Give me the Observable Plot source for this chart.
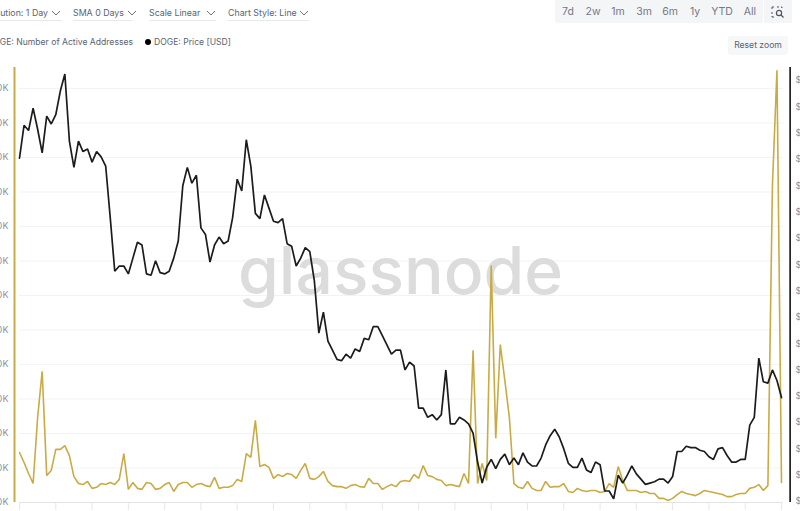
<!DOCTYPE html>
<html><head><meta charset="utf-8">
<script src="https://cdn.jsdelivr.net/npm/d3@7"></script>
<script src="https://cdn.jsdelivr.net/npm/@observablehq/plot@0.6"></script>
<style>
html,body{margin:0;padding:0;background:#fff;overflow:hidden;width:800px;height:511px;font-family:Inter,sans-serif}
#chart{position:absolute;left:0;top:0}
.ctl{position:absolute;top:0;height:20px;border-bottom:1px solid #e6e8eb;font-size:8.8px;line-height:26px;color:#5b6470;white-space:nowrap;display:block}
.ctl svg{position:absolute;top:10px}
.leg{position:absolute;top:36px;font-size:8.6px;line-height:13px;color:#5b6470;white-space:nowrap}
.dot{position:absolute;top:39px;width:6px;height:6px;border-radius:50%}
#bar{position:absolute;left:555px;top:0;width:208px;height:23px;background:#f4f5f6;border-radius:0 0 3px 3px}
#iconbox{position:absolute;left:764px;top:0;width:28px;height:23px;background:#f4f5f6}
.t{position:absolute;top:5px;font-size:10.5px;line-height:14px;color:#727985;transform:translateX(-50%)}
#reset{position:absolute;left:728px;top:36px;width:60px;height:19px;background:#f6f7f9;border-radius:3px;font-size:8.6px;line-height:19px;text-align:center;color:#5b6470}
</style></head><body>
<div id="chart"></div>
<div class="ctl" style="left:-46px;width:108px;text-align:right"><span style="position:absolute;right:14px">Resolution: 1 Day</span><svg style="right:1px" width="10" height="6"><path d="M1 1l4 4 4-4" fill="none" stroke="#6b7280"/></svg></div>
<div class="ctl" style="left:73px;width:59px">SMA 0 Days<svg style="left:54px" width="10" height="6"><path d="M1 1l4 4 4-4" fill="none" stroke="#6b7280"/></svg></div>
<div class="ctl" style="left:149px;width:67px">Scale Linear<svg style="left:57px" width="10" height="6"><path d="M1 1l4 4 4-4" fill="none" stroke="#6b7280"/></svg></div>
<div class="ctl" style="left:228px;width:81px">Chart Style: Line<svg style="left:71px" width="10" height="6"><path d="M1 1l4 4 4-4" fill="none" stroke="#6b7280"/></svg></div>
<div class="dot" style="left:-12px;background:#c9ab45"></div>
<div class="leg" style="right:667px">DOGE: Number of Active Addresses</div>
<div class="dot" style="left:145px;background:#000"></div>
<div class="leg" style="left:154px">DOGE: Price [USD]</div>
<div id="bar"></div><div id="iconbox"></div>
<span class="t" style="left:568px">7d</span><span class="t" style="left:593px">2w</span><span class="t" style="left:618px">1m</span><span class="t" style="left:644px">3m</span><span class="t" style="left:670px">6m</span><span class="t" style="left:695px">1y</span><span class="t" style="left:722px">YTD</span><span class="t" style="left:750px">All</span>
<svg style="position:absolute;left:771px;top:6px" width="14" height="12" fill="none" stroke="#4b5563"><path d="M1 3V1h2M6 1h2M10 1h1v1M1 6v2M1 10v1h2" /><circle cx="8" cy="7" r="2.6" stroke-width="1.2"/><path d="M10 9l2.5 2.5" stroke-width="1.2"/></svg>
<div id="reset">Reset zoom</div>
<script>
const addressesK = [14.5,11.6,8.4,5.5,24.7,38.0,7.8,9.3,15.4,15.4,16.5,13.6,7.5,5.5,5.2,6.1,4.1,4.4,5.5,5.2,5.8,5.2,6.7,14.2,3.8,5.8,4.1,3.8,5.8,5.5,3.8,4.1,5.2,5.8,3.2,5.2,5.8,5.8,4.4,5.2,5.5,4.9,4.6,7.3,4.1,4.4,4.4,4.9,6.7,6.1,14.2,13.1,23.8,10.4,11.0,10.2,
7.0,8.1,7.5,8.4,8.1,7.0,9.3,11.3,7.0,6.7,7.5,9.0,6.1,4.9,4.6,4.6,4.1,4.9,5.2,4.6,4.4,7.0,5.5,5.5,3.8,4.6,5.2,4.6,6.1,6.4,6.1,8.1,7.0,10.7,7.8,7.5,6.7,6.4,4.9,5.2,4.9,4.6,8.4,5.5,44.1,5.5,11.3,6.4,68.7,18.6,45.8,35.4,24.7,5.5,4.4,4.1,6.1,4.1,3.5,3.5,
6.1,4.4,4.6,4.6,5.5,3.2,2.9,4.1,3.5,3.2,3.5,3.5,2.9,3.2,5.5,4.4,10.4,6.4,3.5,3.5,3.5,2.9,3.2,2.6,2.6,1.2,1.2,0.6,1.2,2.3,3.2,2.6,2.3,2.0,2.6,3.5,3.2,2.9,2.6,2.3,1.7,1.7,2.3,2.6,2.6,4.1,4.4,5.2,3.5,4.9,91.9,125.3,5.8];
const priceUSD = [.0861,.0886,.0882,.0899,.0883,.0865,.0893,.0887,.0894,.0912,.0925,.0874,.0854,.0874,.0866,.0868,.0858,.0866,.0862,.0855,.0816,.0775,.0779,.0779,.0773,.0785,.0797,.0795,.0773,.0772,.0783,.0774,.0773,.0775,.0785,.0798,.0840,.0854,.0842,.0848,.0808,.0803,.0782,.0795,.0801,.0796,.0798,.0816,.0845,.0836,.0875,.0855,.0819,.0815,.0833,.0823,
.0813,.0812,.0815,.0796,.0794,.0779,.0785,.0793,.0790,.0768,.0728,.0744,.0722,.0715,.0708,.0707,.0712,.0709,.0716,.0714,.0724,.0723,.0733,.0733,.0726,.0719,.0712,.0715,.0715,.0700,.0706,.0703,.0671,.0671,.0664,.0666,.0662,.0666,.0700,.0659,.0659,.0664,.0662,.0659,.0652,.0630,.0614,.0626,.0632,.0625,.0632,.0636,.0628,.0633,.0628,.0637,.0630,.0627,.0627,.0633,
.0643,.0650,.0655,.0649,.0640,.0629,.0626,.0626,.0633,.0624,.0622,.0630,.0628,.0608,.0608,.0602,.0620,.0614,.0620,.0627,.0621,.0617,.0613,.0614,.0615,.0617,.0617,.0614,.0619,.0638,.0638,.0642,.0641,.0641,.0639,.0638,.0634,.0632,.0640,.0641,.0635,.0630,.0630,.0632,.0632,.0658,.0664,.0709,.0691,.0690,.0700,.0692,.0679];
const leftTicks = [0,10,20,30,40,50,60,70,80,90,100,110,120];
const rightTicks = [.060,.062,.064,.066,.068,.070,.072,.074,.076,.078,.080,.082,.084,.086,.088,.090,.092];
const xTicks = [0,8,16,24,32,40,48,56,64,72,80,88,96,104,112,120,128,136,144,152,160,168];
const watermark = "glassnode";
const GOLD = "#c9ab45", INK = "#1c1c1c", TICK = "#8b9099";

const onLeft = p => 0.29 + (p - 0.06) / 0.002 * 26.3125 * 10 / 34.5;
const points = addressesK.map((a, i) => ({i, a, p: priceUSD[i]}));
const last = points.length - 1;

const svg = Plot.plot({
  width: 800, height: 511,
  marginLeft: 19, marginRight: 19, marginTop: 67, marginBottom: 9,
  style: {background: "transparent", fontFamily: "Inter, sans-serif", overflow: "visible"},
  x: {domain: [0, last], axis: null},
  y: {domain: [0, 126.1], axis: null},
  marks: [
    Plot.ruleY(leftTicks.slice(1), {x1: 0, x2: last + 0.4, stroke: "#f3f3f3", strokeWidth: 1}),
    Plot.text([watermark], {x: 84, y: 66.7, text: d => d, fontSize: 66, fontWeight: 500, fill: "#dcdcdc"}),
    Plot.ruleY([0], {x1: 0, x2: last + 0.4, stroke: "#e2e3e5", strokeWidth: 1.2}),
    Plot.axisX({ticks: xTicks, label: null, tickSize: 8, tickFormat: () => "", stroke: "#e6e7e9", tickPadding: 0}),
    Plot.axisY({anchor: "left", label: null, ticks: leftTicks, tickSize: 0, tickPadding: 11, tickFormat: d => d + "K", fontSize: 9, fill: TICK}),
    Plot.axisY(rightTicks.map(onLeft), {anchor: "right", label: null, tickSize: 0, tickPadding: 14, tickFormat: (d, i) => "$" + rightTicks[i].toFixed(4), fontSize: 9, fill: TICK}),
    Plot.ruleX([-1.1], {y1: 0, y2: 126.1, stroke: GOLD, strokeWidth: 2}),
    Plot.ruleX([last + 1.9], {y1: 0, y2: 126.1, stroke: "#111", strokeWidth: 1.6}),
    Plot.lineY(points, {x: "i", y: "a", stroke: GOLD, strokeWidth: 1.6, strokeLinejoin: "miter"}),
    Plot.lineY(points, {x: "i", y: d => onLeft(d.p), stroke: INK, strokeWidth: 1.7, strokeLinejoin: "miter"})
  ]
});
document.getElementById("chart").appendChild(svg);
</script>
</body></html>
